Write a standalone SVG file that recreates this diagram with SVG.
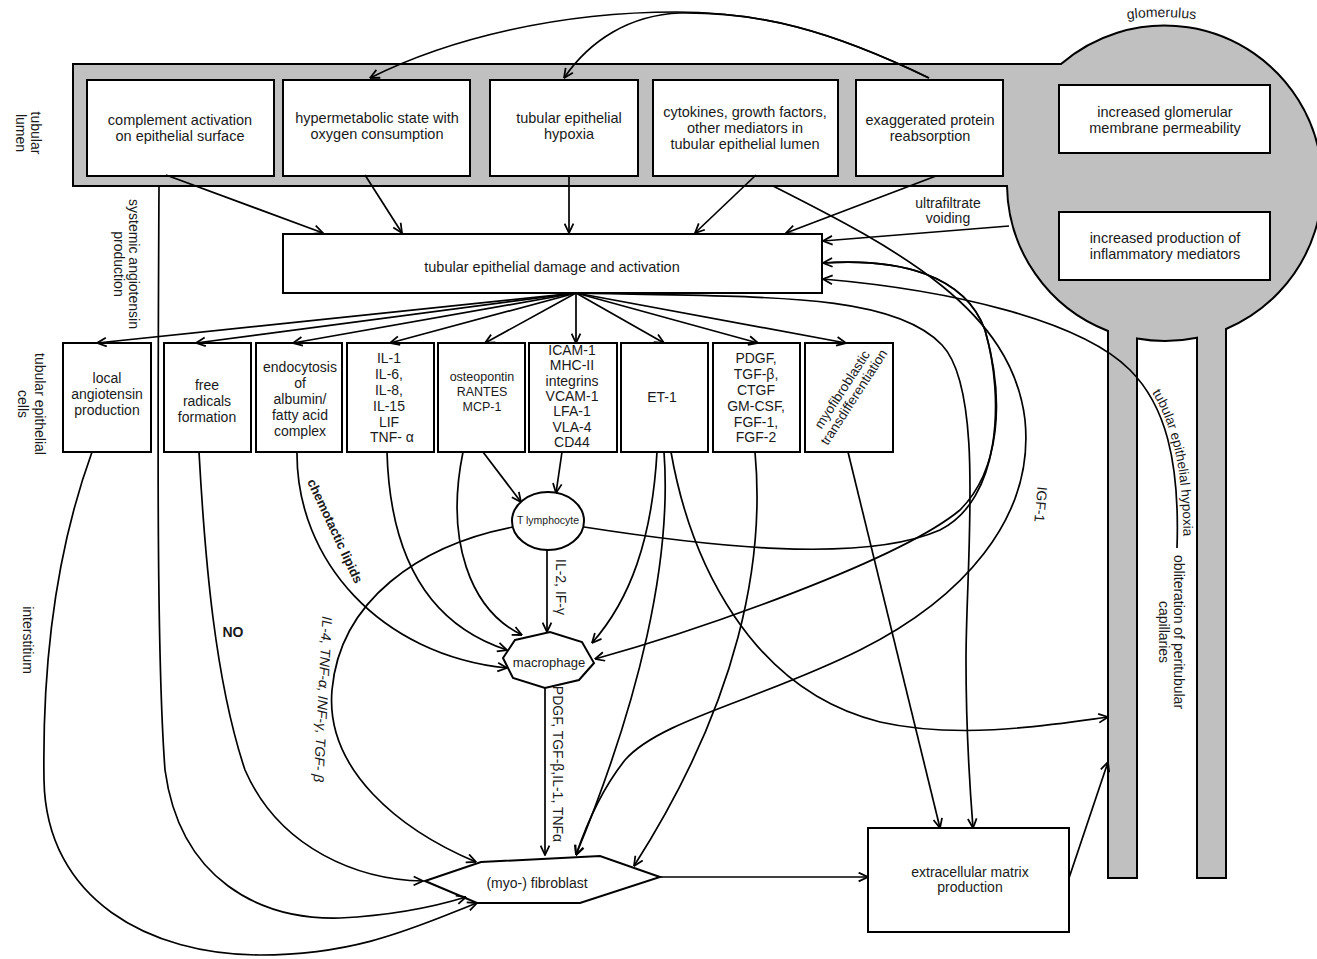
<svg xmlns="http://www.w3.org/2000/svg" width="1317" height="959" viewBox="0 0 1317 959">
<defs>
<marker id="ah" viewBox="0 0 10 10" refX="9.5" refY="5" markerWidth="11" markerHeight="11" markerUnits="userSpaceOnUse" orient="auto"><path d="M1,1 L9.5,5 L1,9" fill="none" stroke="#000" stroke-width="1.6"/></marker>
</defs>
<style>
.t{font-family:"Liberation Sans",Arial,sans-serif;font-size:14px;fill:#1a1a1a;text-anchor:middle}
.m{font-size:14.5px}
.b{font-weight:bold}
.box{fill:#fff;stroke:#000;stroke-width:2}
.c{fill:none;stroke:#000;stroke-width:1.7}
.a{marker-end:url(#ah)}
</style>
<rect x="0" y="0" width="1317" height="959" fill="#fff"/>

<g id="tubule-glomerulus">
<path d="M73,64 L1061,64 A158,158 0 1 1 1226,329 L1226,878 L1197,878 L1197,337.7 A158,158 0 0 1 1137,338.5 L1137,878 L1108,878 L1108,331 A158,158 0 0 1 1007,186 L73,186 Z" fill="#c0c0c0" stroke="#000" stroke-width="2"/>
<defs><path id="glpath" d="M1095,26 Q1160,8 1228,26"/></defs>
<text class="t"><textPath href="#glpath" startOffset="50%">glomerulus</textPath></text>
</g>

<g id="labels">
<text class="t" transform="translate(31,133) rotate(90)"><tspan x="0" y="0">tubular</tspan><tspan x="0" y="15">lumen</tspan></text>
<text class="t" transform="translate(129,264) rotate(90)"><tspan x="0" y="0">systemic angiotensin</tspan><tspan x="0" y="15">production</tspan></text>
<text class="t" transform="translate(35,404) rotate(90)"><tspan x="0" y="0">tubular epithelial</tspan><tspan x="0" y="17">cells</tspan></text>
<text class="t" transform="translate(23,640) rotate(90)">interstitium</text>
<text class="t" transform="translate(1174,632) rotate(90)"><tspan x="0" y="0">obliteration of peritubular</tspan><tspan x="0" y="15">capillaries</tspan></text>
<text class="t"><tspan x="948" y="208">ultrafiltrate</tspan><tspan x="948" y="223">voiding</tspan></text>
<text class="t" transform="translate(1036,504) rotate(95)">IGF-1</text>
<text class="t" transform="translate(556,587) rotate(90)">IL-2, IF-γ</text>
<text class="t" transform="translate(553,764) rotate(90)">PDGF, TGF-β,IL-1, TNFα</text>
<text class="t" style="font-style:italic" transform="translate(318,699) rotate(93)">IL-4, TNF-α, INF-γ, TGF- β</text>
<text class="t b" style="font-size:13px" transform="translate(331,533) rotate(65)">chemotactic lipids</text>
<text class="t b" x="233" y="637">NO</text>
<defs><path id="hypath" d="M1132,368 C1168,402 1186,462 1183,560"/></defs>
<text class="t" style="font-size:13.5px"><textPath href="#hypath" startOffset="52%">tubular epithelial hypoxia</textPath></text>
</g>

<g id="n-complement"><rect class="box" x="87" y="80" width="187" height="96"/><text class="t m"><tspan x="180" y="125">complement activation</tspan><tspan x="180" y="141">on epithelial surface</tspan></text></g>
<g id="n-hypermetabolic"><rect class="box" x="283" y="80" width="187" height="96"/><text class="t m"><tspan x="377" y="123">hypermetabolic state with</tspan><tspan x="377" y="139">oxygen consumption</tspan></text></g>
<g id="n-hypoxia"><rect class="box" x="490" y="80" width="148" height="96"/><text class="t m"><tspan x="569" y="123">tubular epithelial</tspan><tspan x="569" y="139">hypoxia</tspan></text></g>
<g id="n-cytokines"><rect class="box" x="653" y="80" width="185" height="96"/><text class="t m"><tspan x="745" y="117">cytokines, growth factors,</tspan><tspan x="745" y="133">other mediators in</tspan><tspan x="745" y="149">tubular epithelial lumen</tspan></text></g>
<g id="n-protein"><rect class="box" x="856" y="80" width="147" height="96"/><text class="t m"><tspan x="930" y="125">exaggerated protein</tspan><tspan x="930" y="141">reabsorption</tspan></text></g>
<g id="n-glom-perm"><rect class="box" x="1059" y="85" width="211" height="68"/><text class="t m"><tspan x="1165" y="117">increased glomerular</tspan><tspan x="1165" y="133">membrane permeability</tspan></text></g>
<g id="n-glom-infl"><rect class="box" x="1059" y="212" width="211" height="68"/><text class="t m"><tspan x="1165" y="243">increased production of</tspan><tspan x="1165" y="259">inflammatory mediators</tspan></text></g>

<g id="n-damage"><rect class="box" x="283" y="234" width="539" height="59"/><text class="t m" x="552" y="272">tubular epithelial damage and activation</text></g>

<g id="n-local-ang"><rect class="box" x="63" y="343" width="88" height="109"/><text class="t"><tspan x="107" y="383">local</tspan><tspan x="107" y="399">angiotensin</tspan><tspan x="107" y="415">production</tspan></text></g>
<g id="n-free-rad"><rect class="box" x="164" y="343" width="87" height="109"/><text class="t"><tspan x="207" y="390">free</tspan><tspan x="207" y="406">radicals</tspan><tspan x="207" y="422">formation</tspan></text></g>
<g id="n-endocytosis"><rect class="box" x="256" y="343" width="86" height="109"/><text class="t"><tspan x="300" y="372">endocytosis</tspan><tspan x="300" y="388">of</tspan><tspan x="300" y="404">albumin/</tspan><tspan x="300" y="420">fatty acid</tspan><tspan x="300" y="436">complex</tspan></text></g>
<g id="n-il"><rect class="box" x="347" y="343" width="87" height="109"/><text class="t"><tspan x="389" y="363">IL-1</tspan><tspan x="389" y="379">IL-6,</tspan><tspan x="389" y="395">IL-8,</tspan><tspan x="389" y="411">IL-15</tspan><tspan x="389" y="427">LIF</tspan><tspan x="392" y="442">TNF- α</tspan></text></g>
<g id="n-osteopontin"><rect class="box" x="438" y="343" width="87" height="109"/><text class="t" style="font-size:12.5px"><tspan x="482" y="381">osteopontin</tspan><tspan x="482" y="396">RANTES</tspan><tspan x="482" y="411">MCP-1</tspan></text></g>
<g id="n-icam"><rect class="box" x="529" y="343" width="88" height="109"/><text class="t"><tspan x="572" y="355">ICAM-1</tspan><tspan x="572" y="370">MHC-II</tspan><tspan x="572" y="386">integrins</tspan><tspan x="572" y="401">VCAM-1</tspan><tspan x="572" y="416">LFA-1</tspan><tspan x="572" y="432">VLA-4</tspan><tspan x="572" y="447">CD44</tspan></text></g>
<g id="n-et1"><rect class="box" x="621" y="343" width="87" height="109"/><text class="t" x="662" y="402">ET-1</text></g>
<g id="n-pdgf"><rect class="box" x="713" y="343" width="87" height="109"/><text class="t"><tspan x="756" y="363">PDGF,</tspan><tspan x="756" y="379">TGF-β,</tspan><tspan x="756" y="395">CTGF</tspan><tspan x="756" y="411">GM-CSF,</tspan><tspan x="756" y="427">FGF-1,</tspan><tspan x="756" y="442">FGF-2</tspan></text></g>
<g id="n-myotrans"><rect class="box" x="805" y="343" width="88" height="109"/><text class="t" style="font-size:13.5px" transform="translate(846,392) rotate(-57)"><tspan x="0" y="0">myofibroblastic</tspan><tspan x="0" y="14">transdifferentiation</tspan></text></g>

<g id="n-tlymph"><ellipse cx="548" cy="521" rx="36" ry="29" fill="#fff" stroke="#000" stroke-width="2"/><text class="t" style="font-size:10.5px" x="548" y="524">T lymphocyte</text></g>
<g id="n-macrophage"><polygon points="515,640 550,632 582,642 594,663 579,680 545,688 513,678 503,658" fill="#fff" stroke="#000" stroke-width="2"/><text class="t" style="font-size:13px" x="549" y="667">macrophage</text></g>
<g id="n-fibroblast"><polygon points="425,881 481,862 600,856 660,877 580,903 477,903" fill="#fff" stroke="#000" stroke-width="2"/><text class="t" x="537" y="888">(myo-) fibroblast</text></g>
<g id="n-ecm"><rect class="box" x="868" y="828" width="201" height="104"/><text class="t"><tspan x="970" y="877">extracellular matrix</tspan><tspan x="970" y="892">production</tspan></text></g>

<g id="connectors">
<path class="c a" d="M929,78 C830,30 760,12 676,12 C560,12 450,38 370,78"/>
<path class="c a" d="M929,78 C830,30 760,12 680,13 C630,15 590,40 564,78"/>
<path class="c a" d="M166,175 L323,233"/>
<path class="c a" d="M365,175 L402,233"/>
<path class="c a" d="M569,175 L569,233"/>
<path class="c a" d="M756,175 L695,233"/>
<path class="c a" d="M936,176 L786,233"/>
<path class="c a" d="M1009,226 L823,241"/>
<path class="c a" d="M1177,548 C1180,460 1165,405 1130,370 C1080,320 950,290 823,279"/>
<path class="c a" d="M584,527 C700,545 860,565 940,530 C1000,500 1005,400 985,330 C965,275 900,258 823,263"/>
<path class="c a" d="M823,263 C900,258 965,275 985,330 C1005,400 1000,470 960,510 C900,560 700,630 595,659"/>
<path class="c a" d="M773,186 C900,250 1012,310 1025,420 C1035,520 960,600 860,650 C760,700 660,720 625,760 C605,785 588,820 576,855"/>
<path class="c a" d="M576,293 L97,343"/>
<path class="c a" d="M576,293 L196,343"/>
<path class="c a" d="M576,293 L293,343"/>
<path class="c a" d="M576,293 L390,343"/>
<path class="c a" d="M576,293 L485,343"/>
<path class="c a" d="M576,293 L576,343"/>
<path class="c a" d="M576,293 L664,343"/>
<path class="c a" d="M576,293 L758,343"/>
<path class="c a" d="M576,293 L846,343"/>
<path class="c a" d="M576,293 C750,298 890,290 942,345 C985,390 966,560 966,660 C966,740 970,790 973,828"/>
<path class="c a" d="M159,186 C158,400 156,650 165,770 C180,880 260,920 340,918 C400,915 440,905 466,897"/>
<path class="c a" d="M92,452 C60,540 42,650 44,780 C46,900 150,955 260,955 C360,955 420,925 477,903"/>
<path class="c a" d="M199,452 C205,560 215,680 245,770 C280,850 360,880 423,881"/>
<path class="c a" d="M297,452 C296,560 380,655 507,668"/>
<path class="c a" d="M387,452 C390,560 430,625 507,650"/>
<path class="c a" d="M463,452 C445,540 470,610 522,635"/>
<path class="c a" d="M483,452 L521,502"/>
<path class="c a" d="M562,452 L556,493"/>
<path class="c a" d="M547,550 L547,632"/>
<path class="c a" d="M657,452 C652,540 630,600 592,643"/>
<path class="c a" d="M664,452 C672,560 640,700 576,855"/>
<path class="c a" d="M671,452 C690,560 750,690 880,722 C960,740 1050,725 1108,717"/>
<path class="c a" d="M755,452 C765,560 740,700 634,866"/>
<path class="c a" d="M848,452 L940,828"/>
<path class="c a" d="M513,527 C420,545 340,600 332,690 C325,770 400,830 476,862"/>
<path class="c a" d="M545,688 L545,855"/>
<path class="c a" d="M660,877 L868,877"/>
<path class="c a" d="M1069,878 L1108,762"/>
</g>
</svg>
